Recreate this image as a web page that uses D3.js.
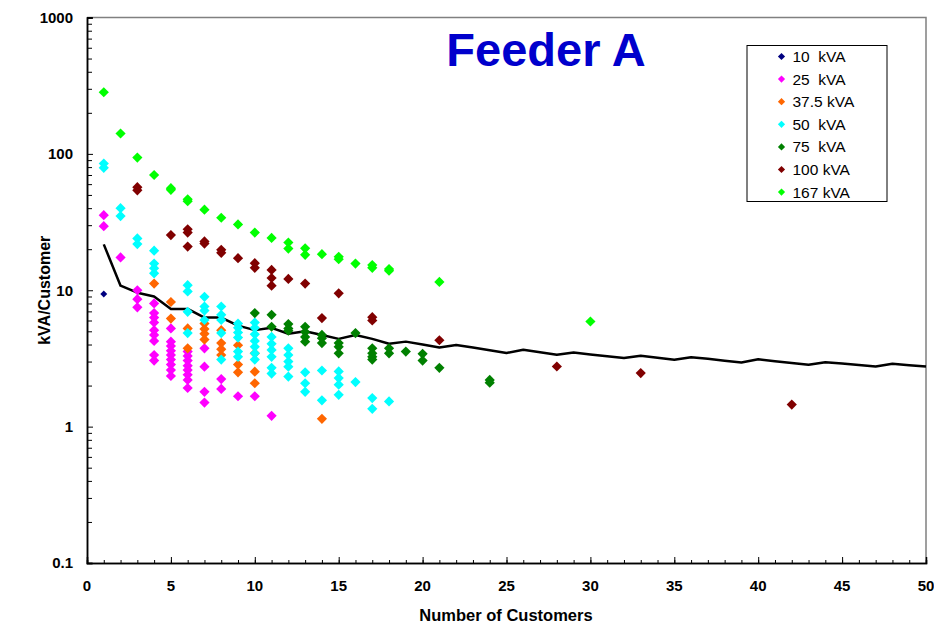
<!DOCTYPE html>
<html>
<head>
<meta charset="utf-8">
<script src="https://cdn.jsdelivr.net/npm/d3@7"></script>
<style>
  body { margin: 0; background: #fff; }
  svg { display: block; font-family: "Liberation Sans", Arial, sans-serif; }
</style>
</head>
<body>
<div id="chart"></div>
<script>
// average kVA/customer curve, customers 1..50
const avgCustomers = d3.range(1, 51);
const avgValues = [21.7, 10.8, 9.6, 9.0, 7.3, 7.3, 6.3, 6.3, 5.5, 5.1,
  5.3, 4.8, 5.0, 4.7, 4.4, 4.7, 4.4, 4.05, 4.2, 4.0,
  3.8, 3.97, 3.8, 3.63, 3.47, 3.66, 3.51, 3.37, 3.49, 3.38,
  3.28, 3.18, 3.31, 3.2, 3.09, 3.23, 3.14, 3.04, 2.95, 3.12,
  3.02, 2.93, 2.84, 2.97, 2.9, 2.83, 2.76, 2.89, 2.82, 2.76];

// scatter points: [number of customers, kVA/customer]
const kva10 = [[1, 9.4]];
const kva25 = [[1, 35.5], [1, 29.5], [2, 17.4], [3, 10.0], [3, 8.6], [3, 7.5],
  [4, 8.0], [4, 6.8], [4, 6.3], [4, 5.8], [4, 5.1], [4, 4.7], [4, 4.25], [4, 3.35], [4, 3.05],
  [5, 5.25], [5, 4.2], [5, 3.9], [5, 3.6], [5, 3.35], [5, 3.1], [5, 2.85], [5, 2.6], [5, 2.35],
  [6, 3.55], [6, 3.3], [6, 3.05], [6, 2.8], [6, 2.6], [6, 2.4], [6, 2.2], [6, 1.92],
  [7, 3.75], [7, 2.75], [7, 1.8], [7, 1.5], [8, 2.23], [8, 1.89], [9, 1.67], [10, 1.67], [11, 1.2]];
const kva37 = [[4, 11.2], [5, 8.2], [5, 6.2], [6, 5.25], [6, 3.75],
  [7, 5.7], [7, 5.2], [7, 4.8], [7, 4.35], [8, 5.1], [8, 4.1], [8, 3.7], [8, 3.35],
  [9, 3.95], [9, 2.85], [9, 2.5], [10, 3.45], [10, 2.53], [10, 2.08], [14, 1.14]];
const kva50 = [[1, 85], [1, 79], [2, 40], [2, 35], [3, 24], [3, 21.8],
  [4, 19.5], [4, 15.7], [4, 14.5], [4, 13.3], [6, 10.9], [6, 9.8], [6, 6.95], [6, 4.85],
  [7, 8.95], [7, 7.6], [7, 7.1], [7, 6.05], [8, 7.6], [8, 6.6], [8, 6.05], [8, 4.85], [8, 3.1],
  [9, 5.7], [9, 5.3], [9, 4.9], [9, 4.5], [9, 3.55], [9, 3.25],
  [10, 5.8], [10, 5.3], [10, 4.75], [10, 4.25], [10, 3.85], [10, 3.45], [10, 3.1],
  [11, 4.55], [11, 4.05], [11, 3.65], [11, 3.25], [11, 2.7], [11, 2.45],
  [12, 3.75], [12, 3.35], [12, 3.0], [12, 2.75], [12, 2.33], [13, 2.5], [13, 2.08], [13, 1.8],
  [14, 2.58], [14, 1.56], [15, 2.54], [15, 2.27], [15, 2.03], [15, 1.71],
  [16, 2.12], [17, 1.62], [17, 1.35], [18, 1.53]];
const kva75 = [[10, 6.8], [11, 6.6], [11, 5.4], [12, 5.65], [12, 5.25], [12, 5.05],
  [13, 5.4], [13, 4.95], [13, 4.55], [13, 4.2], [14, 4.7], [14, 4.45], [14, 4.1],
  [15, 4.1], [15, 3.85], [15, 3.45], [16, 4.85], [17, 3.75], [17, 3.45], [17, 3.25], [17, 3.1],
  [18, 3.75], [18, 3.45], [19, 3.55], [20, 3.42], [20, 3.05], [21, 2.7], [24, 2.2], [24, 2.1]];
const kva100 = [[3, 57], [3, 54], [5, 25.4], [6, 28], [6, 26.5], [6, 20.9], [7, 22.8], [7, 22.0],
  [8, 19.8], [8, 18.8], [9, 17.2], [10, 15.8], [10, 14.6], [11, 14.1], [11, 12.3], [11, 10.8],
  [12, 12.1], [13, 11.2], [14, 6.25], [15, 9.5], [17, 6.35], [17, 6.0], [21, 4.3],
  [28, 2.76], [33, 2.47], [42, 1.45]];
const kva167 = [[1, 283], [2, 141], [3, 94], [4, 70], [5, 56], [5, 54.5], [6, 46.5], [6, 45],
  [7, 39], [8, 34], [9, 30.4], [10, 26.5], [11, 24.2], [12, 22.4], [12, 20.2], [13, 20.3], [13, 18.2],
  [14, 18.4], [15, 17.6], [15, 16.9], [16, 15.7], [17, 15.3], [17, 14.6], [18, 14.3], [18, 13.9],
  [21, 11.5], [30, 5.9]];

const seriesNames = ["10  kVA", "25  kVA", "37.5 kVA", "50  kVA", "75  kVA", "100 kVA", "167 kVA"];
const seriesColors = ["#000080", "#ff00ff", "#ff6600", "#00ffff", "#008000", "#800000", "#00ff00"];
const seriesData = [kva10, kva25, kva37, kva50, kva75, kva100, kva167];

const xTicks = d3.range(0, 51, 5);
const yTicks = [0.1, 1, 10, 100, 1000];

const width = 934, height = 626;
const margin = { top: 17.5, right: 8, bottom: 63, left: 87 };

const svg = d3.select("#chart").append("svg")
  .attr("width", width)
  .attr("height", height);

const x = d3.scaleLinear().domain([0, 50]).range([margin.left, width - margin.right]);
const y = d3.scaleLog().domain([0.1, 1000]).range([height - margin.bottom, margin.top]);

// square diamond like Excel markers
const diamond = {
  draw(ctx, size) {
    const r = Math.sqrt(size / 2);
    ctx.moveTo(0, -r); ctx.lineTo(r, 0); ctx.lineTo(0, r); ctx.lineTo(-r, 0); ctx.closePath();
  }
};

// plot frame (top and right)
svg.append("path")
  .attr("d", `M${x(0)},${y(1000)}H${x(50)}V${y(0.1)}`)
  .attr("fill", "none")
  .attr("stroke", "#808080")
  .attr("stroke-width", 1.5);

// y axis, minor ticks inside
const yMinor = [];
[0.1, 1, 10, 100].forEach(d => { for (let k = 2; k <= 9; k++) yMinor.push(d * k); });
const yAxis = svg.append("g")
  .attr("transform", `translate(${x(0)},0)`)
  .call(d3.axisRight(y).tickValues(yMinor).tickSize(5).tickFormat(""));
yAxis.append("g").call(d3.axisRight(y).tickValues(yTicks).tickSize(6).tickFormat(""));
yAxis.selectAll("path.domain").attr("stroke", "#000").attr("stroke-width", 1.5);
yAxis.selectAll(".tick line").attr("stroke", "#000").attr("stroke-width", 1);

svg.append("g").selectAll("text")
  .data(yTicks)
  .join("text")
  .attr("x", x(0) - 14)
  .attr("y", d => y(d))
  .attr("dy", "0.36em")
  .attr("text-anchor", "end")
  .style("font-size", "15px")
  .style("font-weight", "bold")
  .text(d => d3.format("")(d));

// x axis, ticks inside
const xAxis = svg.append("g")
  .attr("transform", `translate(0,${y(0.1)})`)
  .call(d3.axisTop(x).tickValues(d3.range(0, 51)).tickSize(3).tickFormat(""));
xAxis.append("g").call(d3.axisTop(x).tickValues(xTicks).tickSize(6).tickFormat(""));
xAxis.selectAll("path.domain").attr("stroke", "#000").attr("stroke-width", 1.5);
xAxis.selectAll(".tick line").attr("stroke", "#000").attr("stroke-width", 1);

svg.append("g").selectAll("text")
  .data(xTicks)
  .join("text")
  .attr("x", d => x(d))
  .attr("y", y(0.1) + 28)
  .attr("text-anchor", "middle")
  .style("font-size", "15px")
  .style("font-weight", "bold")
  .text(d => d);

// axis titles
svg.append("text")
  .attr("x", 506)
  .attr("y", 621)
  .attr("text-anchor", "middle")
  .style("font-size", "16.5px")
  .style("font-weight", "bold")
  .text("Number of Customers");

svg.append("text")
  .attr("transform", `translate(50,${(y(1000) + y(0.1)) / 2}) rotate(-90)`)
  .attr("text-anchor", "middle")
  .style("font-size", "16px")
  .style("font-weight", "bold")
  .text("kVA/Customer");

// average line
const line = d3.line()
  .x((d, i) => x(avgCustomers[i]))
  .y(d => y(d));

svg.append("path")
  .datum(avgValues)
  .attr("fill", "none")
  .attr("stroke", "#000")
  .attr("stroke-width", 2.5)
  .attr("stroke-linejoin", "round")
  .attr("d", line);

// scatter series
seriesData.forEach((data, i) => {
  svg.append("g").selectAll("path")
    .data(data)
    .join("path")
    .attr("d", d3.symbol().type(diamond).size(i === 0 ? 24 : 52))
    .attr("transform", d => `translate(${x(d[0])},${y(d[1])})`)
    .attr("fill", seriesColors[i]);
});

// title
svg.append("text")
  .attr("x", 546)
  .attr("y", 66)
  .attr("text-anchor", "middle")
  .style("font-size", "47px")
  .style("font-weight", "bold")
  .attr("fill", "#0000cc")
  .text("Feeder A");

// legend
const legend = svg.append("g").attr("transform", "translate(747,45.5)");
legend.append("rect")
  .attr("width", 140)
  .attr("height", 156)
  .attr("fill", "#fff")
  .attr("stroke", "#000")
  .attr("stroke-width", 1);

const item = legend.selectAll("g.item")
  .data(seriesNames)
  .join("g")
  .attr("class", "item")
  .attr("transform", (d, i) => `translate(0,${11 + i * 22.6})`);

item.append("path")
  .attr("d", d3.symbol().type(diamond).size(26))
  .attr("transform", "translate(34.5,0)")
  .attr("fill", (d, i) => seriesColors[i]);

item.append("text")
  .attr("x", 45.5)
  .attr("dy", "0.36em")
  .style("font-size", "15.5px")
  .style("white-space", "pre")
  .text(d => d);
</script>
</body>
</html>
